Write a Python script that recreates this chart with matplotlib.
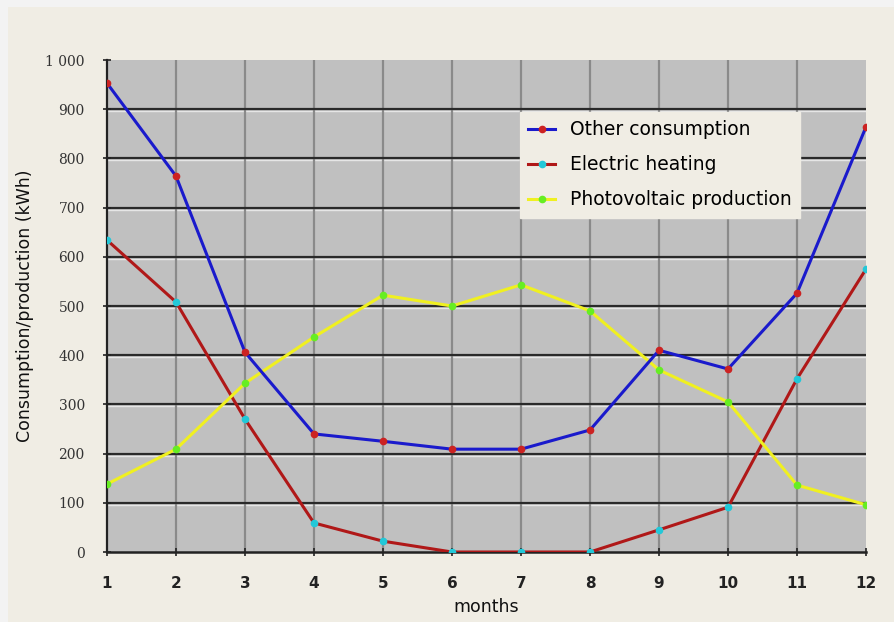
import matplotlib.pyplot as plt
from matplotlib.patches import Rectangle

# Data
months = [1, 2, 3, 4, 5, 6, 7, 8, 9, 10, 11, 12]
other_consumption = [953, 764, 406, 240, 225, 209, 209, 248, 410, 372, 526, 864]
electric_heating = [634, 508, 270, 59, 22, 0, 0, 0, 45, 91, 352, 575]
pv_production = [138, 209, 343, 437, 522, 500, 543, 490, 370, 305, 136, 96]
y_ticks = [0, 100, 200, 300, 400, 500, 600, 700, 800, 900, 1000]
y_tick_labels = ['0', '100', '200', '300', '400', '500', '600', '700', '800', '900', '1 000']

fig = plt.figure(figsize=(8.94, 6.22), dpi=100)
fig.patch.set_facecolor('#f3f3f3')
# beige panel behind the chart
fig.patches.append(Rectangle((8 / 894, 0), 1, 1 - 7 / 622, transform=fig.transFigure,
                             facecolor='#f0ede4', edgecolor='none', zorder=-5))

ax = fig.add_axes([107 / 894, 1 - 552 / 622, (866 - 107) / 894, (552 - 60) / 622])
ax.set_facecolor('#c0c0c0')

ax.set_xlim(1, 12)
ax.set_ylim(0, 1000)

# grid: dark horizontal lines, lighter vertical ones
for v in y_ticks[1:-1]:
    ax.axhline(v - 4, color='#e6e6e6', lw=1.0, zorder=1)
    ax.axhline(v, color='#2a2a2a', lw=1.6, zorder=1.5)
for m in months[1:-1]:
    ax.axvline(m, color='#8a8a8a', lw=1.6, zorder=1)

ax.plot(months, other_consumption, color='#1a1acc', lw=2.2, marker='o', ms=4.5,
        mfc='#cc2222', mec='#cc2222', label='Other consumption', zorder=4)
ax.plot(months, electric_heating, color='#b01818', lw=2.2, marker='o', ms=4.5,
        mfc='#22c8d8', mec='#22c8d8', label='Electric heating', zorder=3)
ax.plot(months, pv_production, color='#f0f020', lw=2.2, marker='o', ms=4.5,
        mfc='#66ee22', mec='#66ee22', label='Photovoltaic production', zorder=3)

for s in ['top', 'right']:
    ax.spines[s].set_visible(False)
ax.spines['left'].set_color('#222222')
ax.spines['bottom'].set_color('#222222')
ax.spines['left'].set_linewidth(1.6)
ax.spines['bottom'].set_linewidth(1.8)

ax.set_xticks(months)
ax.set_xticklabels([str(m) for m in months], fontsize=11, fontweight='bold', color='#222222')
ax.set_yticks(y_ticks)
ax.set_yticklabels(y_tick_labels, fontsize=10, color='#333333', family='DejaVu Serif')
ax.tick_params(axis='both', length=6, width=1.2, color='#222222', direction='inout')
ax.tick_params(axis='x', pad=14)
ax.tick_params(axis='y', pad=13)

ax.set_ylabel('Consumption/production (kWh)', fontsize=12.5, color='#111111', labelpad=8)
ax.set_xlabel('months', fontsize=12.5, color='#111111', labelpad=5)

leg = ax.legend(loc='upper left', bbox_to_anchor=((520 - 107) / 759, (552 - 112) / 492),
                fontsize=13.5, frameon=True, fancybox=False, facecolor='#f0ede4',
                edgecolor='#f0ede4', framealpha=1, handlelength=1.4, borderpad=0.45,
                labelspacing=0.85, handletextpad=0.8, borderaxespad=0)
leg.set_zorder(6)

fig.savefig('out.png', dpi=100, facecolor=fig.get_facecolor())
